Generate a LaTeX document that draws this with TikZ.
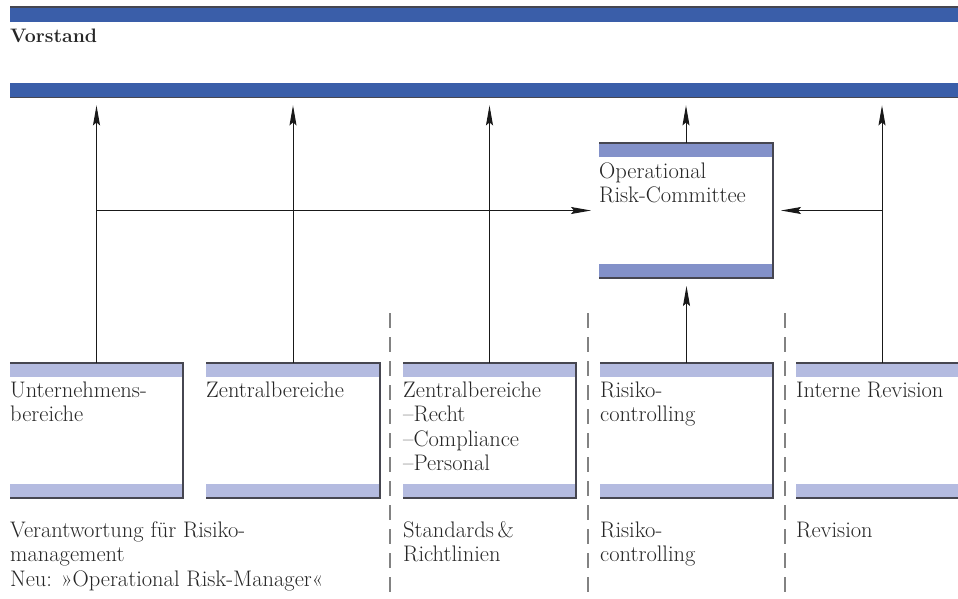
\documentclass[tikz,border=0pt]{standalone}
\usepackage{fontspec}
\usetikzlibrary{arrows.meta}
\definecolor{barblue}{RGB}{58,94,169}
\definecolor{bandA}{RGB}{131,145,201}
\definecolor{bandB}{RGB}{180,187,224}
\definecolor{edgegray}{RGB}{70,70,80}
\definecolor{dashgray}{RGB}{130,130,130}
\tikzset{
  boxnode/.style={anchor=north west, inner sep=0pt, outer sep=0pt, minimum width=#1, minimum height=135pt},
  txt/.style={font=\fontsize{22.5}{24.5}\selectfont, text=black!85, align=left, inner sep=0pt, anchor=base west},
  edgeline/.style={draw=edgegray, line width=1.2pt},
  arr/.style={draw=black!90, line width=1pt, -{Stealth[length=20pt,width=7pt,inset=3pt]}, shorten >=8pt},
  sepline/.style={draw=dashgray, line width=1.3pt, dash pattern=on 15pt off 9pt},
}
\newcommand{\orgbox}[5]{% name, x, y, width, band colour
  \node[boxnode=#4] (#1) at (#2,#3) {};
  \fill[#5] (#1.north west) rectangle ([yshift=-14pt]#1.north east);
  \fill[#5] ([yshift=14pt]#1.south west) rectangle (#1.south east);
  \draw[edgeline] (#1.north west) -- (#1.north east) -- (#1.south east) -- (#1.south west);
}
\begin{document}
\begin{tikzpicture}[x=1pt,y=-1pt]
\useasboundingbox (0,0) rectangle (958,598);
% bars
\node[anchor=north west, inner sep=0pt, minimum width=960pt, minimum height=15pt, fill=barblue] (bar1) at (10,7) {};
\draw[edgeline] (bar1.north west) -- (bar1.north east);
\node[anchor=north west, inner sep=0pt, minimum width=960pt, minimum height=14pt, fill=barblue] (bar2) at (10,83) {};
\draw[edgeline] (bar2.south west) -- (bar2.south east);
\node[txt, font=\fontsize{19.5}{24.5}\selectfont\bfseries] (vorstand) at (10,42) {Vorstand};

% boxes
\orgbox{orc}{599}{143}{174}{bandA}
\orgbox{ub}{10}{363}{173}{bandB}
\orgbox{zb}{206}{363}{174}{bandB}
\orgbox{zr}{403}{363}{173}{bandB}
\orgbox{rc}{600}{363}{173}{bandB}
\orgbox{ir}{796}{363}{172}{bandB}

% box texts (anchor base = baseline of the last line)
\node[txt] (torc) at ([yshift=-59.5pt]orc.north west) {Operational\\Risk-Committee};
\node[txt] (tub) at ([yshift=-58.5pt]ub.north west) {Unternehmens-\\bereiche};
\node[txt] (tzb) at ([yshift=-34pt]zb.north west) {Zentralbereiche};
\node[txt] (tzr) at ([yshift=-107.5pt]zr.north west) {Zentralbereiche\\–Recht\\–Compliance\\–Personal};
\node[txt] (trc) at ([yshift=-58.5pt]rc.north west) {Risiko-\\controlling};
\node[txt] (tir) at ([yshift=-34pt]ir.north west) {Interne Revision};

% bottom texts
\node[txt] (b1) at (10,586) {Verantwortung für Risiko-\\management\\Neu: »Operational Risk-Manager«};
\node[txt] (b2) at (403,561.5) {Standards\,\&\\Richtlinien};
\node[txt] (b3) at (600,561.5) {Risiko-\\controlling};
\node[txt] (b4) at (796,537) {Revision};

% dashed separators
\coordinate (d1t) at (390,313); \coordinate (d1b) at (390,598);
\coordinate (d2t) at (588,313); \coordinate (d2b) at (588,598);
\coordinate (d3t) at (785,313); \coordinate (d3b) at (785,598);
\draw[sepline] (d1t) -- (d1b);
\draw[sepline] (d2t) -- (d2b);
\draw[sepline] (d3t) -- (d3b);

% arrows
\draw[arr] (ub.north) -- (ub.north |- bar2.south);
\draw[arr] (zb.north) -- (zb.north |- bar2.south);
\draw[arr] (zr.north) -- (zr.north |- bar2.south);
\draw[arr] (orc.north) -- (orc.north |- bar2.south);
\draw[arr] (ir.north) -- (ir.north |- bar2.south);
\draw[arr] (rc.north) -- (rc.north |- orc.south);
\draw[arr] (ub.north |- orc.west) -- (orc.west);
\draw[arr] (ir.north |- orc.east) -- (orc.east);
\end{tikzpicture}
\end{document}
